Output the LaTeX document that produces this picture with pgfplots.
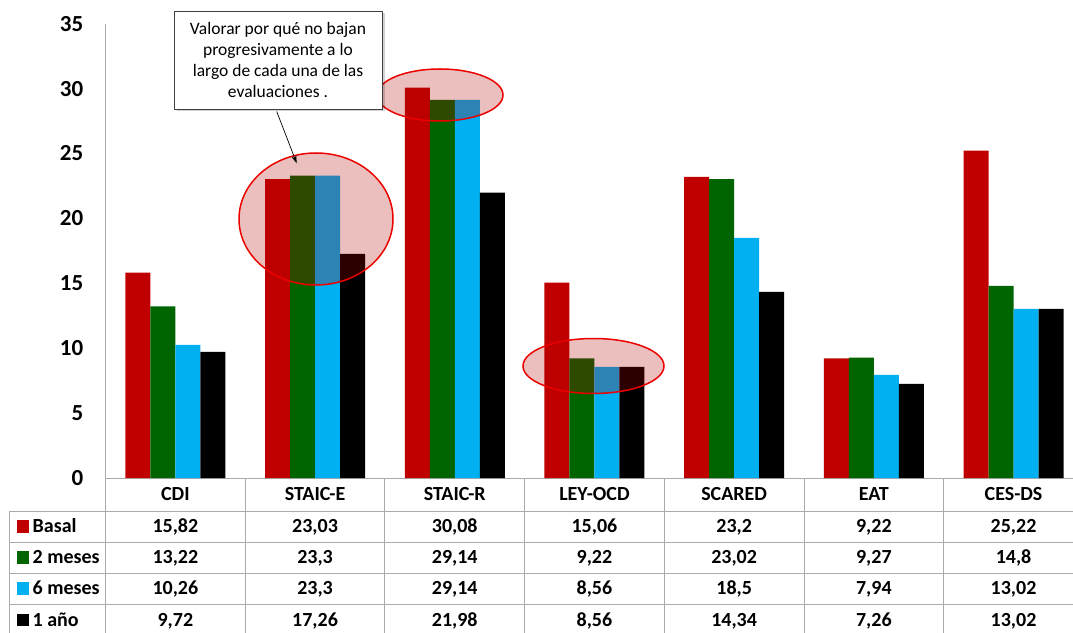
\documentclass[border=0pt]{standalone}
\usepackage{fontspec}
\setmainfont{Carlito}
\usepackage{pgfplots}
\pgfplotsset{compat=1.18}
\usetikzlibrary{shadows,arrows.meta}
\definecolor{cBasal}{RGB}{192,0,0}
\definecolor{cDos}{RGB}{0,100,0}
\definecolor{cSeis}{RGB}{0,176,240}
\definecolor{cAnio}{RGB}{0,0,0}
\definecolor{gridg}{RGB}{170,170,170}
\definecolor{ellfill}{RGB}{180,0,0}
\definecolor{ellline}{RGB}{235,0,0}
\definecolor{boxline}{RGB}{64,64,64}
\newcommand{\tf}{\bfseries\fontsize{20}{24}\selectfont}
\begin{document}
\begin{tikzpicture}[x=1pt,y=1pt]
\useasboundingbox (0,0) rectangle (1073,632);
\begin{axis}[
  at={(105.5pt,154pt)}, anchor=south west,
  x=139.7pt, y=12.98pt,
  xmin=-0.5, xmax=6.43, ymin=0, ymax=35,
  enlargelimits=false,
  ybar=0pt, bar width=25pt,
  axis x line=bottom, axis y line=left,
  axis line style={gridg, line width=1pt, -},
  major tick length=0pt,
  ytick={0,5,...,35},
  xtick={0,1,2,3,4,5,6},
  xticklabels={CDI,STAIC-E,STAIC-R,LEY-OCD,SCARED,EAT,CES-DS},
  /pgf/number format/assume math mode=true,
  yticklabel style={font=\bfseries\fontsize{23}{27}\selectfont, anchor=east, inner sep=0pt, xshift=-22pt},
  xticklabel style={font=\tf, anchor=base, inner sep=0pt, yshift=-22.8pt},
]
\addplot[fill=cBasal, draw=none] coordinates {(0,15.82) (1,23.03) (2,30.08) (3,15.06) (4,23.2) (5,9.22) (6,25.22)};
\addplot[fill=cDos, draw=none] coordinates {(0,13.22) (1,23.3) (2,29.14) (3,9.22) (4,23.02) (5,9.27) (6,14.8)};
\addplot[fill=cSeis, draw=none] coordinates {(0,10.26) (1,23.3) (2,29.14) (3,8.56) (4,18.5) (5,7.94) (6,13.02)};
\addplot[fill=cAnio, draw=none] coordinates {(0,9.72) (1,17.26) (2,21.98) (3,8.56) (4,14.34) (5,7.26) (6,13.02)};
\end{axis}
% annotation ellipses
\foreach \cx/\cy/\rx/\ry in {316/413/77/66, 440/537/63/26, 593.5/266/70.5/27.5}{
  \fill[ellfill, opacity=0.25] (\cx,\cy) ellipse [x radius=\rx, y radius=\ry];
  \draw[ellline, line width=1.5pt] (\cx,\cy) ellipse [x radius=\rx, y radius=\ry];
}
% callout
\node[draw=boxline, line width=0.9pt, fill=white, minimum width=208pt, minimum height=98pt,
      align=center, inner sep=2pt, font=\fontsize{17.5}{20.7}\selectfont,
      drop shadow={shadow xshift=2.5pt, shadow yshift=-2.5pt, opacity=0.18, fill=black}]
  at (278,572) {Valorar por qué no bajan\\progresivamente a lo\\largo de cada una de las\\evaluaciones .};
\draw[line width=0.7pt, -{Stealth[length=8pt,width=5pt]}] (276.7,520.5) -- (296.7,468.7);
% table grid
\begin{scope}[gridg, line width=1pt]
\foreach \Y in {121,90,59,28} \draw (9,\Y) -- (1073,\Y);
\draw (9,121) -- (9,-5);
\foreach \k in {0,...,6} \draw ({105.5+139.7*\k},154) -- ({105.5+139.7*\k},-5);
\end{scope}
% legend keys
\foreach \Y/\c/\t in {105.5/cBasal/Basal, 74.5/cDos/2 meses, 43.5/cSeis/6 meses, 12/cAnio/1 año}{
  \fill[\c] (16.5,\Y-6.2) rectangle (29,\Y+6.2);
  \node[anchor=base west, inner sep=0pt, font=\tf] at (32.5,\Y-6.3) {\t};
}
% table values
\newcommand{\trow}[8]{%
  \node[anchor=base, inner sep=0pt, font=\tf] at (175.35,#1-6.3) {#2};
  \node[anchor=base, inner sep=0pt, font=\tf] at (315.05,#1-6.3) {#3};
  \node[anchor=base, inner sep=0pt, font=\tf] at (454.75,#1-6.3) {#4};
  \node[anchor=base, inner sep=0pt, font=\tf] at (594.45,#1-6.3) {#5};
  \node[anchor=base, inner sep=0pt, font=\tf] at (734.15,#1-6.3) {#6};
  \node[anchor=base, inner sep=0pt, font=\tf] at (873.85,#1-6.3) {#7};
  \node[anchor=base, inner sep=0pt, font=\tf] at (1013.55,#1-6.3) {#8};}
\trow{105.5}{15,82}{23,03}{30,08}{15,06}{23,2}{9,22}{25,22}
\trow{74.5}{13,22}{23,3}{29,14}{9,22}{23,02}{9,27}{14,8}
\trow{43.5}{10,26}{23,3}{29,14}{8,56}{18,5}{7,94}{13,02}
\trow{12}{9,72}{17,26}{21,98}{8,56}{14,34}{7,26}{13,02}
\end{tikzpicture}
\end{document}
